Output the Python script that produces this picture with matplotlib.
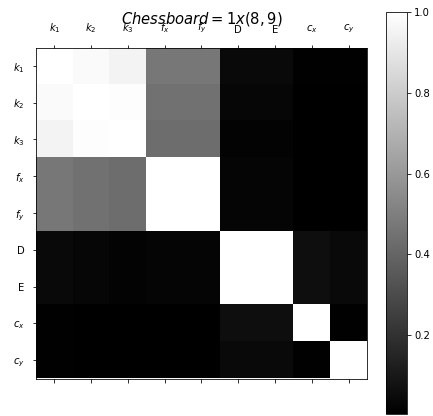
import numpy as np
import matplotlib
matplotlib.use("Agg")
import matplotlib.pyplot as plt

W, H, DPI = 433, 416, 72

labels = [r"$k_1$", r"$k_2$", r"$k_3$", r"$f_x$", r"$f_y$", "D", "E", r"$c_x$", r"$c_y$"]

# correlation values (row by row, symmetric)
row_k1 = [1.00, 0.98, 0.95, 0.47, 0.47, 0.040, 0.040, 0.010, 0.010]
row_k2 = [0.98, 1.00, 0.99, 0.45, 0.45, 0.030, 0.030, 0.008, 0.008]
row_k3 = [0.95, 0.99, 1.00, 0.43, 0.43, 0.020, 0.020, 0.005, 0.005]
row_fx = [0.47, 0.45, 0.43, 1.00, 1.00, 0.025, 0.025, 0.005, 0.005]
row_fy = [0.47, 0.45, 0.43, 1.00, 1.00, 0.025, 0.025, 0.005, 0.005]
row_D  = [0.040, 0.030, 0.020, 0.025, 0.025, 1.00, 1.00, 0.060, 0.040]
row_E  = [0.040, 0.030, 0.020, 0.025, 0.025, 1.00, 1.00, 0.060, 0.040]
row_cx = [0.010, 0.008, 0.005, 0.005, 0.005, 0.060, 0.060, 1.00, 0.012]
row_cy = [0.010, 0.008, 0.005, 0.005, 0.005, 0.040, 0.040, 0.012, 1.00]

corr = np.array([row_k1, row_k2, row_k3, row_fx, row_fy,
                 row_D, row_E, row_cx, row_cy])

fig = plt.figure(figsize=(W / DPI, H / DPI), dpi=DPI)
ax = fig.add_axes([36 / W, (H - 378.5) / H, 331 / W, 331 / H])

im = ax.imshow(corr, cmap="gray", interpolation="nearest")

ax.set_xticks(range(len(labels)))
ax.set_yticks(range(len(labels)))
ax.set_xticklabels(labels)
ax.set_yticklabels(labels)
ax.tick_params(axis="x", top=True, bottom=True, labeltop=True, labelbottom=False, pad=9)
ax.tick_params(axis="y", left=True, right=False, pad=8)

# title sits over the top tick labels, as in the original
ax.set_title(r"$Chessboard = 1x(8,9)$", fontsize=14.7, y=1.053)

cax = fig.add_axes([386 / W, (H - 414) / H, 21 / W, 402 / H])
fig.colorbar(im, cax=cax)

fig.savefig("out.png", dpi=DPI)
